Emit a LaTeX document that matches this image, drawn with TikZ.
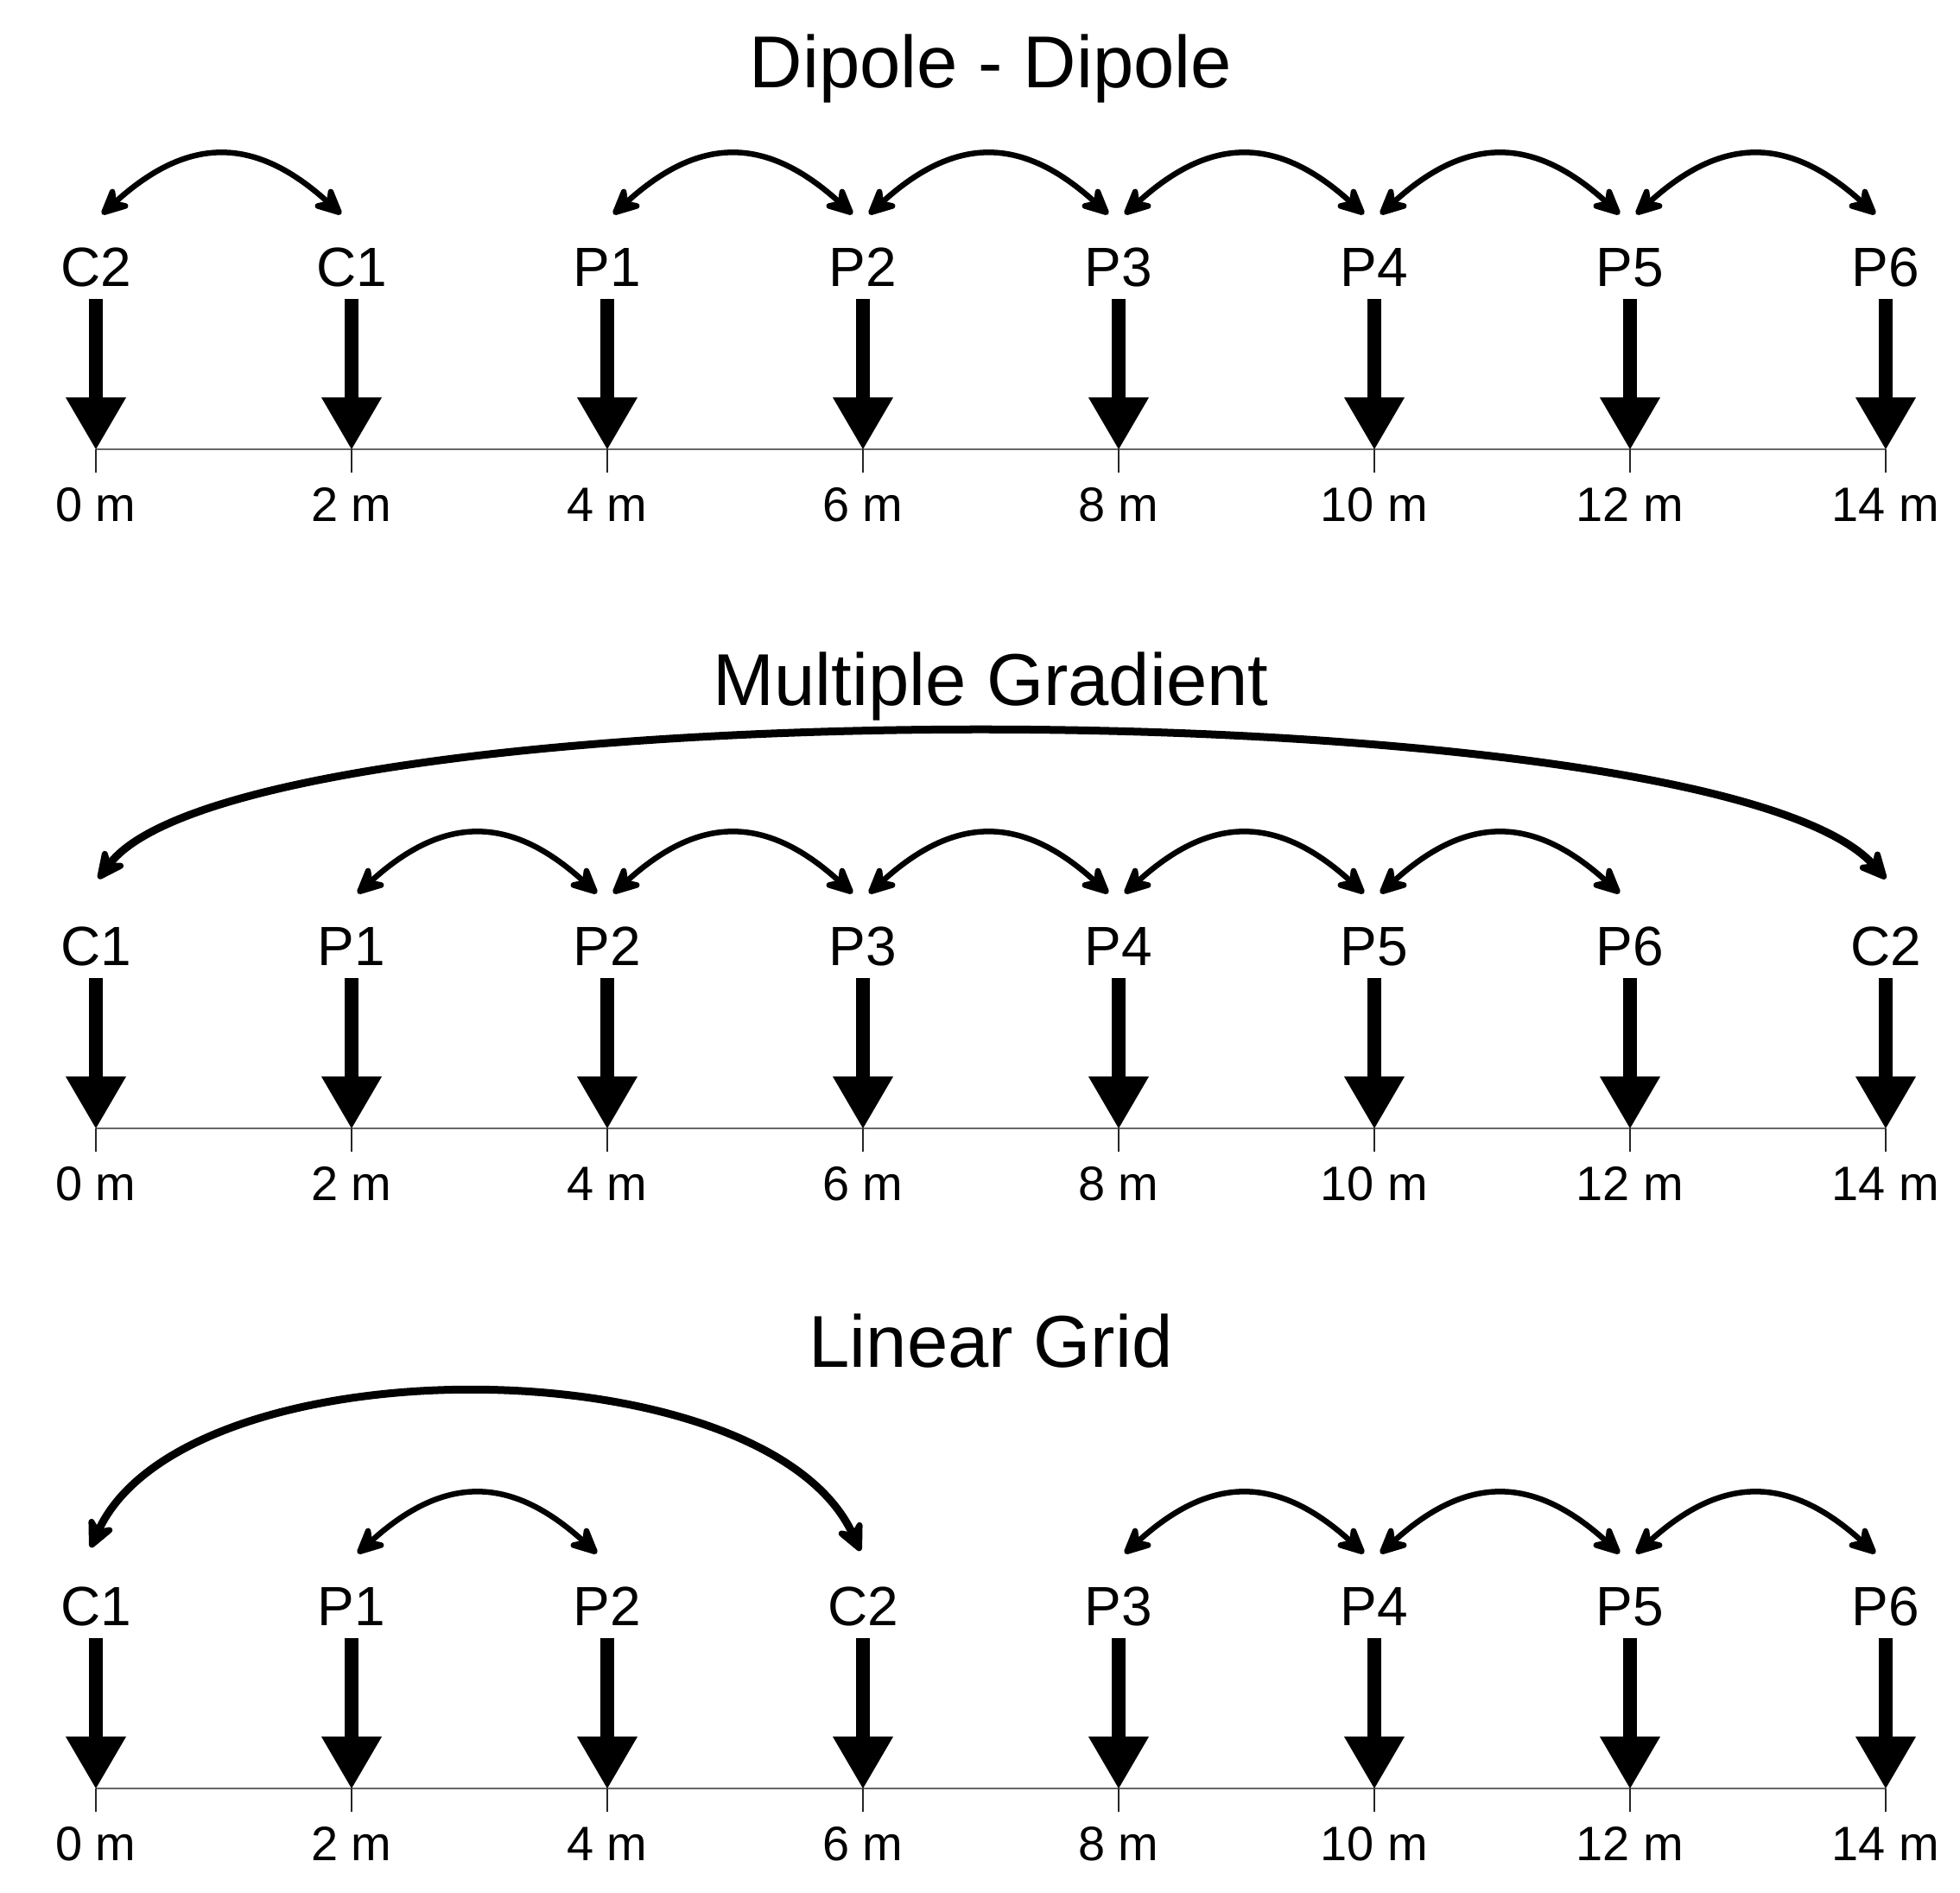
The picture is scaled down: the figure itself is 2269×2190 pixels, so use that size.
\documentclass[tikz,border=0pt]{standalone}
\usepackage{fontspec}
\setmainfont{Liberation Sans}
\usetikzlibrary{arrows.meta}
\newcommand{\mypanel}[3]{%
  \draw[axisline] (111,#2) -- (2183,#2);
  \foreach \lab [count=\k from 0] in {#3} {
    \pgfmathsetmacro{\xx}{111+296*\k}
    \pgfmathtruncatemacro{\mm}{2*\k}
    \coordinate (#1-\k-ax) at (\xx,#2);
    \coordinate (#1-\k-top) at (\xx,#2-174);
    \coordinate (#1-\k-tk) at (\xx,#2+27);
    \coordinate (#1-\k-L) at (\xx+7,#2-272);
    \coordinate (#1-\k-R) at (\xx-12,#2-272);
    \node[lbl] (#1-\k-lab) at (\xx,#2-189) {\lab};
    \node[dist] (#1-\k-d) at (\xx,#2+83) {\mm\ m};
    \draw[elarrow] (#1-\k-top) -- (#1-\k-ax);
    \draw[tick] (#1-\k-ax) -- (#1-\k-tk);
  }
}
\newcommand{\sarc}[3]{\draw[smallarc] (#1-#2-L) .. controls +(100,-91) and +(-100,-91) .. (#1-#3-R);}
\begin{document}
\begin{tikzpicture}[x=0.01cm,y=-0.01cm,
  lbl/.style={anchor=base,font=\fontsize{18.2pt}{20pt}\selectfont,inner sep=0pt},
  dist/.style={anchor=base,font=\fontsize{15.9pt}{18pt}\selectfont,inner sep=0pt},
  ttl/.style={anchor=base,font=\fontsize{24.2pt}{28pt}\selectfont,inner sep=0pt},
  axisline/.style={draw=black!60,line width=0.02cm},
  tick/.style={draw=black!85,line width=0.015cm},
  elarrow/.style={line width=0.16cm,-{Triangle[length=0.6cm,width=0.7cm,line width=0pt]}},
  smallarc/.style={line width=0.065cm,{Stealth[length=0.40cm,width=0.38cm,inset=0.13cm,round]}-{Stealth[length=0.40cm,width=0.38cm,inset=0.13cm,round]}},
  bigarc/.style={line width=0.09cm,{Stealth[length=0.42cm,width=0.40cm,inset=0.14cm,round]}-{Stealth[length=0.42cm,width=0.40cm,inset=0.14cm,round]}}
]
\useasboundingbox (0,0) rectangle (2269,2190);

% titles
\node[ttl] (t1) at (1147,101) {Dipole - Dipole};
\node[ttl] (t2) at (1147,816) {Multiple Gradient};
\node[ttl] (t3) at (1147,1582) {Linear Grid};

% panels
\mypanel{a}{520}{C2,C1,P1,P2,P3,P4,P5,P6}
\mypanel{b}{1306}{C1,P1,P2,P3,P4,P5,P6,C2}
\mypanel{c}{2070}{C1,P1,P2,C2,P3,P4,P5,P6}

% top arcs
\sarc{a}{0}{1}
\sarc{a}{2}{3}
\sarc{a}{3}{4}
\sarc{a}{4}{5}
\sarc{a}{5}{6}
\sarc{a}{6}{7}

% middle arcs
\coordinate (b-big-L) at (114,1017);
\coordinate (b-big-R) at (2183,1017);
\draw[bigarc] (b-big-L) .. controls +(170,-225) and +(-200,-225) .. (b-big-R);
\sarc{b}{1}{2}
\sarc{b}{2}{3}
\sarc{b}{3}{4}
\sarc{b}{4}{5}
\sarc{b}{5}{6}

% bottom arcs
\coordinate (c-big-L) at (105,1791);
\coordinate (c-big-R) at (996,1795);
\draw[bigarc] (c-big-L) .. controls +(110,-240) and +(-110,-240) .. (c-big-R);
\sarc{c}{1}{2}
\sarc{c}{4}{5}
\sarc{c}{5}{6}
\sarc{c}{6}{7}
\end{tikzpicture}
\end{document}
